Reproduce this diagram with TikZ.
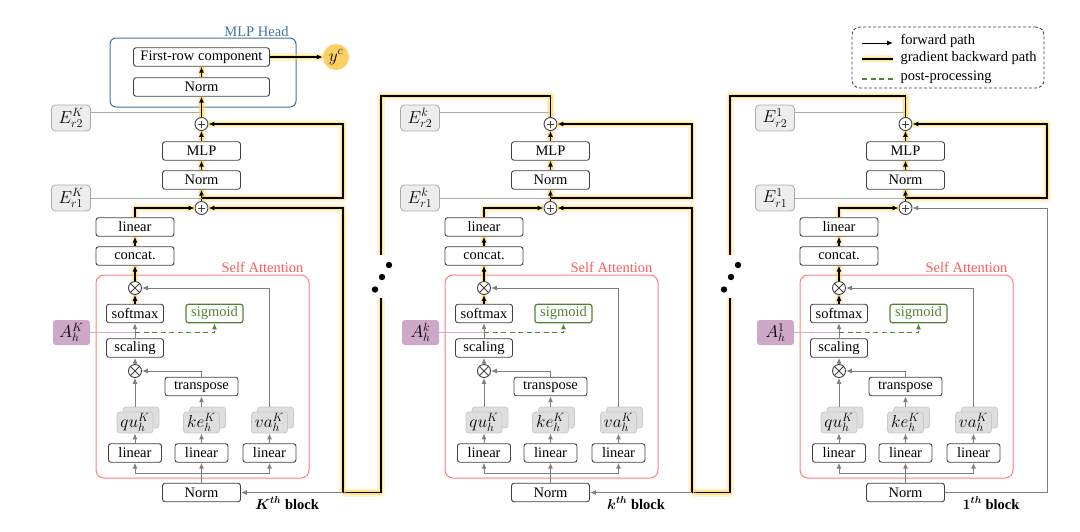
\documentclass[tikz,border=0pt]{standalone}
\usepackage{fontspec}
\setmainfont{Liberation Serif}
\usepackage{bm}
\usetikzlibrary{arrows.meta}

\definecolor{boxc}{RGB}{64,64,64}
\definecolor{fwgray}{RGB}{127,127,127}
\definecolor{glowc}{RGB}{255,212,80}
\definecolor{headc}{RGB}{65,113,156}
\definecolor{attc}{RGB}{255,124,128}
\definecolor{attt}{RGB}{255,90,90}
\definecolor{sigc}{RGB}{84,130,53}
\definecolor{ahc}{RGB}{205,168,200}
\definecolor{ahl}{RGB}{215,170,210}
\definecolor{erc}{RGB}{237,237,237}
\definecolor{erd}{RGB}{170,170,170}
\definecolor{qkvc}{RGB}{222,222,222}
\definecolor{qkvd}{RGB}{200,200,200}
\definecolor{ycc}{RGB}{250,208,100}

\tikzset{
  box/.style={draw=boxc, line width=0.9pt, rounded corners=2.5pt, fill=white,
    inner sep=0pt, minimum height=18.5pt},
  op/.style={circle, draw=boxc, line width=0.9pt, fill=white, inner sep=0pt, minimum size=13pt},
  plus/.style={op, path picture={
    \draw[line width=.7pt] ([xshift=-3.5pt]path picture bounding box.center) -- ([xshift=3.5pt]path picture bounding box.center)
      ([yshift=-3.5pt]path picture bounding box.center) -- ([yshift=3.5pt]path picture bounding box.center);}},
  times/.style={op, path picture={
    \draw[line width=.8pt] (path picture bounding box.south west) -- (path picture bounding box.north east)
      (path picture bounding box.north west) -- (path picture bounding box.south east);}},
  mathlab/.style={font=\fontsize{17}{18}\selectfont},
  emb/.style={mathlab, draw=erd, fill=erc, line width=.8pt, rounded corners=4pt,
    minimum width=39pt, minimum height=26pt, inner sep=0pt},
  ahbox/.style={mathlab, fill=ahc, rounded corners=3pt, minimum width=37pt, minimum height=25pt, inner sep=0pt},
  qkv/.style={mathlab, draw=qkvd, fill=qkvc, line width=.8pt, rounded corners=3pt,
    minimum width=36pt, minimum height=21pt, inner sep=0pt},
  fw/.style={draw=fwgray, line width=1pt, ->},
  grad/.style={draw=black, line width=1.4pt, ->,
    preaction={draw=glowc, line width=8pt, opacity=.25, line join=round, -},
    preaction={draw=glowc, line width=4.5pt, opacity=.55, line join=round, -}},
  post/.style={draw=sigc, line width=1.2pt, dash pattern=on 5pt off 3.5pt},
  ahline/.style={draw=ahl, line width=1pt},
  erline/.style={draw=erd, line width=.9pt},
}

\begin{document}
\begin{tikzpicture}[x=1pt,y=-1pt,>={Latex[length=6pt,width=5pt]},
  font=\fontsize{14.5}{16}\selectfont]
\useasboundingbox (0,0) rectangle (1080,531);

% one encoder block per shift
\foreach \i/\dx in {K/0, k/349, 1/704}{
\begin{scope}[xshift=\dx pt]
\node[draw=attc, line width=1pt, rounded corners=8pt, minimum width=213pt,
  minimum height=203pt] (sa-\i) at (202.5,376.5) {};
\node[text=attt] (salab-\i) at (262.5,267) {Self Attention};
\path
(201.5,124) node[plus] (p2-\i) {}
(201.5,151) node[box, minimum width=78pt] (mlp-\i) {MLP}
(201.5,180) node[box, minimum width=78pt] (norm2-\i) {Norm}
(201.5,208) node[plus] (p1-\i) {}
(71,118)    node[emb] (er2-\i) {$E_{r2}^{\i}$}
(71,198)    node[emb] (er1-\i) {$E_{r1}^{\i}$}
(135,227)   node[box, minimum width=78pt] (lin-\i) {linear}
(135,256)   node[box, minimum width=78pt] (cat-\i) {concat.}
(135,288)   node[times] (m2-\i) {}
(135,313.5) node[box, minimum width=57pt] (soft-\i) {softmax}
(214.5,313.5) node[box, draw=sigc, text=sigc, line width=1.2pt, minimum width=57pt] (sig-\i) {sigmoid}
(71.5,332.5) node[ahbox] (ah-\i) {$A_h^{\i}$}
(135,348)   node[box, minimum width=57pt] (scal-\i) {scaling}
(135,371)   node[times] (m1-\i) {}
(201.5,386.5) node[box, minimum width=73pt] (tr-\i) {transpose}
(141,417.5) node[qkv] (qub-\i) {}
(135,422.5) node[qkv] (qu-\i) {$qu_h^K$}
(207.5,417.5) node[qkv] (keb-\i) {}
(201.5,422.5) node[qkv] (ke-\i) {$ke_h^K$}
(275.5,417.5) node[qkv] (vab-\i) {}
(269.5,422.5) node[qkv] (va-\i) {$va_h^K$}
(135,453)   node[box, minimum width=53pt] (l1-\i) {linear}
(201.5,453) node[box, minimum width=53pt] (l2-\i) {linear}
(269.5,453) node[box, minimum width=53pt] (l3-\i) {linear}
(201.5,492.5) node[box, minimum width=78pt] (nb-\i) {Norm}
(287,503)   node (blab-\i) {$\bm{\i^{th}}$ \textbf{block}};
\coordinate (br-\i) at (201.5,473);
\coordinate (am-\i) at (135,332.5);
\coordinate (t1-\i) at (201.5,198);
\coordinate (t2-\i) at (201.5,112);
\coordinate (in-\i) at (343,492.5);
% forward path
\draw[fw] (nb-\i) -- (l2-\i);
\draw[fw] (br-\i) -| (l1-\i);
\draw[fw] (br-\i) -| (l3-\i);
\draw[fw] (l1-\i) -- (qu-\i);
\draw[fw] (l2-\i) -- (ke-\i);
\draw[fw] (l3-\i) -- (va-\i);
\draw[fw] (qub-\i.north -| qu-\i) -- (m1-\i);
\draw[fw] (keb-\i.north -| ke-\i) -- (tr-\i);
\draw[fw] (tr-\i) |- (m1-\i);
\draw[fw] (vab-\i.north -| va-\i) |- (m2-\i);
\draw[fw] (m1-\i) -- (scal-\i);
\draw[fw] (scal-\i) -- (soft-\i);
% attention map
\draw[ahline] (ah-\i) -- (am-\i);
\draw[post,->] (am-\i) -| (sig-\i);
% gradient path
\draw[grad] (soft-\i) -- (m2-\i);
\draw[grad] (m2-\i) -- (cat-\i);
\draw[grad] (cat-\i) -- (lin-\i);
\draw[grad] (lin-\i) |- (p1-\i);
\draw[grad] (p1-\i) -- (norm2-\i);
\draw[grad] (norm2-\i) -- (mlp-\i);
\draw[grad] (mlp-\i) -- (p2-\i);
\draw[grad] (t1-\i) -| (343,124) -- (p2-\i);
\draw[erline] (er1-\i) -- (er1-\i -| t1-\i);
\draw[erline] (er2-\i.east |- t2-\i) -- (t2-\i);
\end{scope}
}

% MLP head
\path
(203,72.5) node[draw=headc, line width=1pt, rounded corners=6pt, minimum width=186pt,
  minimum height=69pt] (head) {}
(256.5,32) node[text=headc] (headlab) {MLP Head}
(201.5,57) node[box, minimum width=136pt] (frc) {First-row component}
(201.5,87) node[box, minimum width=136pt] (nh) {Norm}
(336,57)   node[mathlab, circle, fill=ycc, minimum size=26pt, inner sep=0pt] (yc) {$y^c$};
\draw[grad] (p2-K) -- (nh);
\draw[grad] (nh) -- (frc);
\draw[grad] (frc) -- (yc);

% links between blocks
\draw[grad,-] (p2-k) |- (381,96) |- (in-K);
\draw[grad,-] (p2-1) |- (730,96) |- (in-k);
\draw[grad] (in-K) |- (p1-K);
\draw[grad] (in-k) |- (p1-k);
\draw[fw] (in-K) -- (nb-K);
\draw[fw] (in-k) -- (nb-k);
\draw[fw] (nb-1.east) -- (in-1) |- (p1-1);

% skipped blocks
\foreach \gx in {381,730}{
  \fill[white] (\gx-8,255) rectangle (\gx+8,298);
  \foreach \ddx/\ddy in {8/-11.5,1/0.5,-6/13}
    \fill (\gx+\ddx,276.5+\ddy) circle (3.2pt);
}

% legend
\node[draw=boxc, dash pattern=on 3pt off 2pt, rounded corners=8pt, line width=.8pt,
  minimum width=192pt, minimum height=61pt] (legend) at (948,57.5) {};
\coordinate (lg1) at (862,43);
\coordinate (lg1e) at (893,43);
\coordinate (lg2) at (862,59);
\coordinate (lg2e) at (893,59);
\coordinate (lg3) at (862,79);
\coordinate (lg3e) at (893,79);
\draw[->, black, line width=1pt] (lg1) -- (lg1e);
\draw[grad,-] (lg2) -- (lg2e);
\draw[post] (lg3) -- (lg3e);
\node[anchor=west] (lgt1) at (897,41) {forward path};
\node[anchor=west] (lgt2) at (897,58) {gradient backward path};
\node[anchor=west] (lgt3) at (897,77) {post-processing};
\end{tikzpicture}
\end{document}
